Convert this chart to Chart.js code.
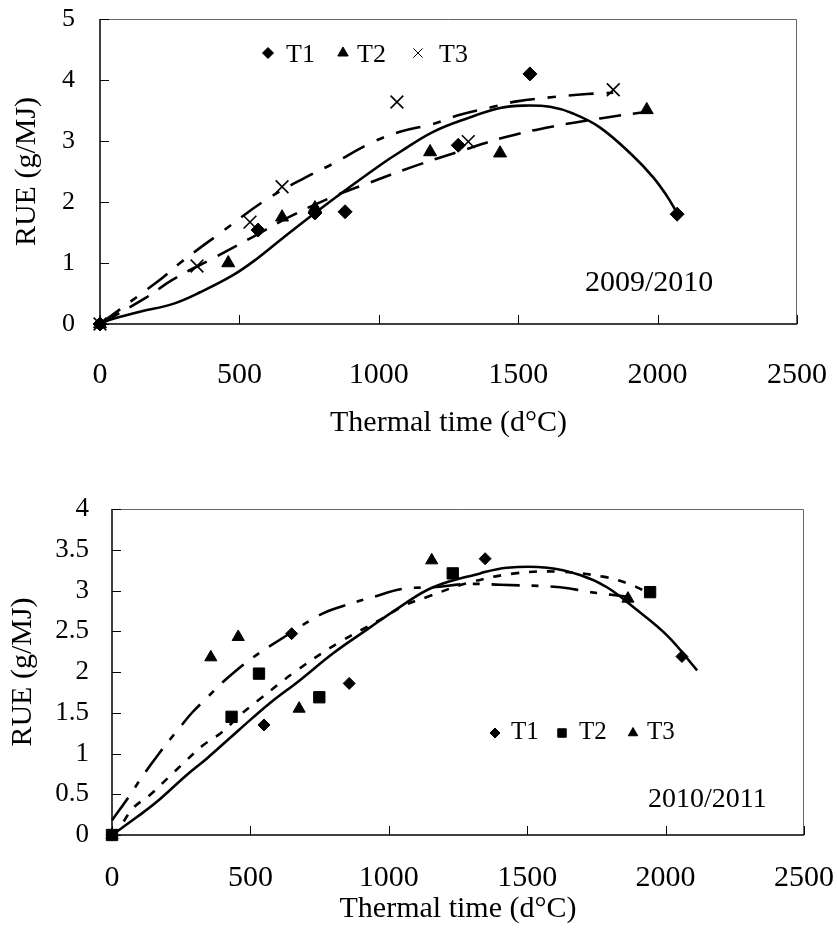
<!DOCTYPE html>
<html>
<head>
<meta charset="utf-8">
<script src="https://cdn.jsdelivr.net/npm/chart.js@4.4.0/dist/chart.umd.min.js"></script>
<style>
  html, body { margin: 0; padding: 0; background: #fff; }
  #wrap { position: relative; width: 837px; height: 950px; }
  canvas { position: absolute; left: 0; }
</style>
</head>
<body>
<div id="wrap">
  <canvas id="chart0910" width="837" height="460" style="top:0px"></canvas>
  <canvas id="chart1011" width="837" height="490" style="top:460px"></canvas>
</div>
<script>
// ---- 2009/2010 observed points ----
const t1x_09 = [0, 567, 771, 879, 1285, 1542, 2070];
const t1y_09 = [0, 1.54, 1.82, 1.84, 2.93, 4.1, 1.8];
const t2x_09 = [0, 460, 653, 771, 1184, 1435, 1961];
const t2y_09 = [0, 1.0, 1.75, 1.9, 2.82, 2.8, 3.51];
const t3x_09 = [0, 348, 538, 653, 1065, 1321, 1841];
const t3y_09 = [0, 0.95, 1.67, 2.25, 3.64, 2.99, 3.84];

// ---- 2009/2010 fitted curves ----
const fit1x_09 = [0, 36, 143, 262, 359, 477, 563, 656, 771, 897, 1016, 1076, 1195, 1316, 1435, 1517, 1614, 1697, 1794, 1913, 1985, 2033, 2070];
const fit1y_09 = [0, 0.07, 0.2, 0.33, 0.52, 0.8, 1.07, 1.41, 1.82, 2.25, 2.64, 2.82, 3.15, 3.37, 3.54, 3.58, 3.56, 3.45, 3.22, 2.75, 2.4, 2.1, 1.82];
const fit2x_09 = [0, 168, 258, 419, 549, 681, 837, 957, 1123, 1303, 1459, 1626, 1794, 1961];
const fit2y_09 = [0, 0.44, 0.72, 1.11, 1.43, 1.76, 2.09, 2.3, 2.58, 2.85, 3.07, 3.24, 3.37, 3.48];
const fit3x_09 = [0, 143, 222, 287, 437, 600, 753, 837, 968, 1076, 1195, 1291, 1410, 1495, 1626, 1747, 1841];
const fit3y_09 = [0, 0.48, 0.75, 1.0, 1.51, 2.05, 2.44, 2.63, 2.96, 3.15, 3.28, 3.43, 3.56, 3.65, 3.72, 3.77, 3.79];

// ---- 2010/2011 observed points ----
const t1x_10 = [0, 549, 649, 857, 1348, 2059];
const t1y_10 = [0, 1.35, 2.47, 1.86, 3.39, 2.19];
const t2x_10 = [0, 432, 531, 749, 1231, 1944];
const t2y_10 = [0, 1.45, 1.98, 1.69, 3.21, 2.98];
const t3x_10 = [0, 357, 456, 676, 1155, 1864];
const t3y_10 = [0, 2.18, 2.43, 1.55, 3.37, 2.9];

// ---- 2010/2011 fitted curves ----
const fit1x_10 = [0, 90, 163, 271, 343, 426, 509, 571, 679, 799, 921, 1041, 1160, 1330, 1427, 1572, 1691, 1788, 1882, 2005, 2114];
const fit1y_10 = [0, 0.22, 0.41, 0.74, 0.94, 1.19, 1.44, 1.62, 1.9, 2.23, 2.52, 2.8, 3.04, 3.21, 3.28, 3.28, 3.19, 3.04, 2.8, 2.45, 2.02];
const fit2x_10 = [0, 29, 76, 137, 202, 264, 329, 397, 462, 524, 668, 824, 968, 1059, 1138, 1283, 1456, 1619, 1774, 1861, 1933];
const fit2y_10 = [0, 0.1, 0.33, 0.49, 0.7, 0.9, 1.1, 1.26, 1.47, 1.64, 2.02, 2.37, 2.64, 2.82, 2.92, 3.09, 3.21, 3.23, 3.17, 3.09, 2.98];
const fit3x_10 = [0, 65, 106, 172, 245, 289, 336, 415, 510, 618, 751, 835, 943, 1051, 1160, 1283, 1402, 1619, 1727, 1825, 1872];
const fit3y_10 = [0.18, 0.49, 0.7, 1.01, 1.32, 1.5, 1.66, 1.92, 2.18, 2.42, 2.7, 2.81, 2.92, 3.02, 3.04, 3.08, 3.07, 3.04, 2.98, 2.94, 2.92];

const xTicksMax = 2500;
const xStep = 500;
const yMax_09 = 5, yStep_09 = 1;
const yMax_10 = 4, yStep_10 = 0.5;
const xTitle = 'Thermal time (d°C)';
const yTitle = 'RUE (g/MJ)';

const SERIF = '"Liberation Serif", "Times New Roman", serif';

function pts(xs, ys) {
  return xs.map((x, i) => ({ x: x, y: ys[i] }));
}

function markerSet(label, xs, ys, style, r) {
  return {
    label: label,
    data: pts(xs, ys),
    showLine: false,
    pointStyle: style,
    pointRadius: r,
    pointHoverRadius: r,
    pointBackgroundColor: '#000',
    pointBorderColor: '#000',
    pointBorderWidth: style === 'crossRot' ? 1.6 : 1,
    clip: false
  };
}

function curveSet(label, xs, ys, dash) {
  return {
    label: label,
    data: pts(xs, ys),
    showLine: true,
    pointRadius: 0,
    borderColor: '#000',
    borderWidth: 2.6,
    borderDash: dash,
    tension: 0.4,
    fill: false,
    clip: false
  };
}

// frame, inside ticks, in-plot legend and season label
function decorPlugin(legend, year) {
  return {
    id: 'decor',
    beforeDatasetsDraw(chart) {
      const { ctx, chartArea: a, scales } = chart;
      ctx.save();
      ctx.strokeStyle = '#666';
      ctx.lineWidth = 1;
      ctx.beginPath();
      ctx.moveTo(a.left, a.top + 0.5);
      ctx.lineTo(a.right - 0.5, a.top + 0.5);
      ctx.lineTo(a.right - 0.5, a.bottom);
      ctx.stroke();
      ctx.strokeStyle = '#000';
      ctx.lineWidth = 1.5;
      ctx.beginPath();
      ctx.moveTo(a.left, a.top);
      ctx.lineTo(a.left, a.bottom);
      ctx.lineTo(a.right, a.bottom);
      ctx.stroke();
      ctx.lineWidth = 1;
      ctx.beginPath();
      scales.x.ticks.forEach(t => {
        const px = Math.round(scales.x.getPixelForValue(t.value)) + 0.5;
        ctx.moveTo(px, a.bottom);
        ctx.lineTo(px, a.bottom - 9);
      });
      scales.y.ticks.forEach(t => {
        const py = Math.round(scales.y.getPixelForValue(t.value)) + 0.5;
        ctx.moveTo(a.left, py);
        ctx.lineTo(a.left + 9, py);
      });
      ctx.stroke();
      ctx.restore();
    },
    afterDatasetsDraw(chart) {
      const ctx = chart.ctx;
      ctx.save();
      ctx.fillStyle = '#000';
      ctx.strokeStyle = '#000';
      ctx.textBaseline = 'middle';
      ctx.textAlign = 'left';
      ctx.font = legend.size + 'px ' + SERIF;
      legend.items.forEach(it => {
        Chart.helpers.drawPoint(ctx, {
          pointStyle: it.style, radius: it.r, rotation: 0,
          borderWidth: it.style === 'crossRot' ? 1.4 : 1
        }, it.mx, legend.y);
        ctx.fillText(it.text, it.tx, legend.ty);
      });
      ctx.font = year.size + 'px ' + SERIF;
      ctx.fillText(year.text, year.x, year.y);
      ctx.restore();
    }
  };
}

function makeOptions(c) {
  return {
    responsive: false,
    animation: false,
    events: [],
    layout: { padding: { top: c.padTop, right: c.padRight, left: 0, bottom: 0 } },
    plugins: { legend: { display: false }, tooltip: { enabled: false } },
    scales: {
      x: {
        type: 'linear', min: 0, max: xTicksMax,
        afterFit(s) { s.height = c.xH; s.paddingLeft = 0; s.paddingRight = 0; },
        grid: { display: false, drawTicks: false },
        border: { display: false },
        ticks: { stepSize: xStep, color: '#000', padding: c.xPad, maxRotation: 0, autoSkip: false,
                 font: { family: SERIF, size: 30 },
                 callback: v => String(v) },
        title: { display: true, text: xTitle, color: '#000', font: { family: SERIF, size: 30 },
                 padding: { top: 0, bottom: c.xTitlePad } }
      },
      y: {
        type: 'linear', min: 0, max: c.yMax,
        afterFit(s) { s.width = c.yW; s.paddingTop = 0; s.paddingBottom = 0; },
        grid: { display: false, drawTicks: false },
        border: { display: false },
        ticks: { stepSize: c.yStep, color: '#000', padding: c.yPad,
                 font: { family: SERIF, size: c.yFont },
                 callback: v => String(v) },
        title: { display: true, text: yTitle, color: '#000', font: { family: SERIF, size: 30 },
                 padding: { top: c.yTitlePad, bottom: 0 } }
      }
    }
  };
}

new Chart(document.getElementById('chart0910'), {
  type: 'scatter',
  data: {
    datasets: [
      markerSet('T1', t1x_09, t1y_09, 'rectRot', 7),
      markerSet('T2', t2x_09, t2y_09, 'triangle', 7.5),
      markerSet('T3', t3x_09, t3y_09, 'crossRot', 9),
      curveSet('T1 fit', fit1x_09, fit1y_09, []),
      curveSet('T2 fit', fit2x_09, fit2y_09, [22, 12]),
      curveSet('T3 fit', fit3x_09, fit3y_09, [25, 13, 8, 13])
    ]
  },
  options: makeOptions({
    padTop: 19, padRight: 40, xH: 136, yW: 100,
    xPad: 33, xTitlePad: 19, yMax: yMax_09, yStep: yStep_09,
    yPad: 25, yFont: 26, yTitlePad: 9
  }),
  plugins: [decorPlugin(
    { y: 53, ty: 55, size: 26, items: [
      { style: 'rectRot', r: 5.5, mx: 268, tx: 286, text: 'T1' },
      { style: 'triangle', r: 6, mx: 343, tx: 357, text: 'T2' },
      { style: 'crossRot', r: 6.5, mx: 418, tx: 439, text: 'T3' }
    ] },
    { text: '2009/2010', x: 585, y: 283, size: 30 }
  )]
});

new Chart(document.getElementById('chart1011'), {
  type: 'scatter',
  data: {
    datasets: [
      markerSet('T1', t1x_10, t1y_10, 'rectRot', 6),
      markerSet('T2', t2x_10, t2y_10, 'rect', 8),
      markerSet('T3', t3x_10, t3y_10, 'triangle', 7),
      curveSet('T1 fit', fit1x_10, fit1y_10, []),
      curveSet('T2 fit', fit2x_10, fit2y_10, [8, 10]),
      curveSet('T3 fit', fit3x_10, fit3y_10, [28, 12, 7, 12])
    ]
  },
  options: makeOptions({
    padTop: 49, padRight: 33, xH: 115, yW: 112,
    xPad: 25, xTitlePad: 23, yMax: yMax_10, yStep: yStep_10,
    yPad: 23, yFont: 27, yTitlePad: 5
  }),
  plugins: [decorPlugin(
    { y: 273, ty: 272, size: 25, items: [
      { style: 'rectRot', r: 5, mx: 495, tx: 511, text: 'T1' },
      { style: 'rect', r: 6, mx: 562, tx: 579, text: 'T2' },
      { style: 'triangle', r: 5.5, mx: 633, tx: 647, text: 'T3' }
    ] },
    { text: '2010/2011', x: 648, y: 340, size: 28 }
  )]
});
</script>
</body>
</html>
